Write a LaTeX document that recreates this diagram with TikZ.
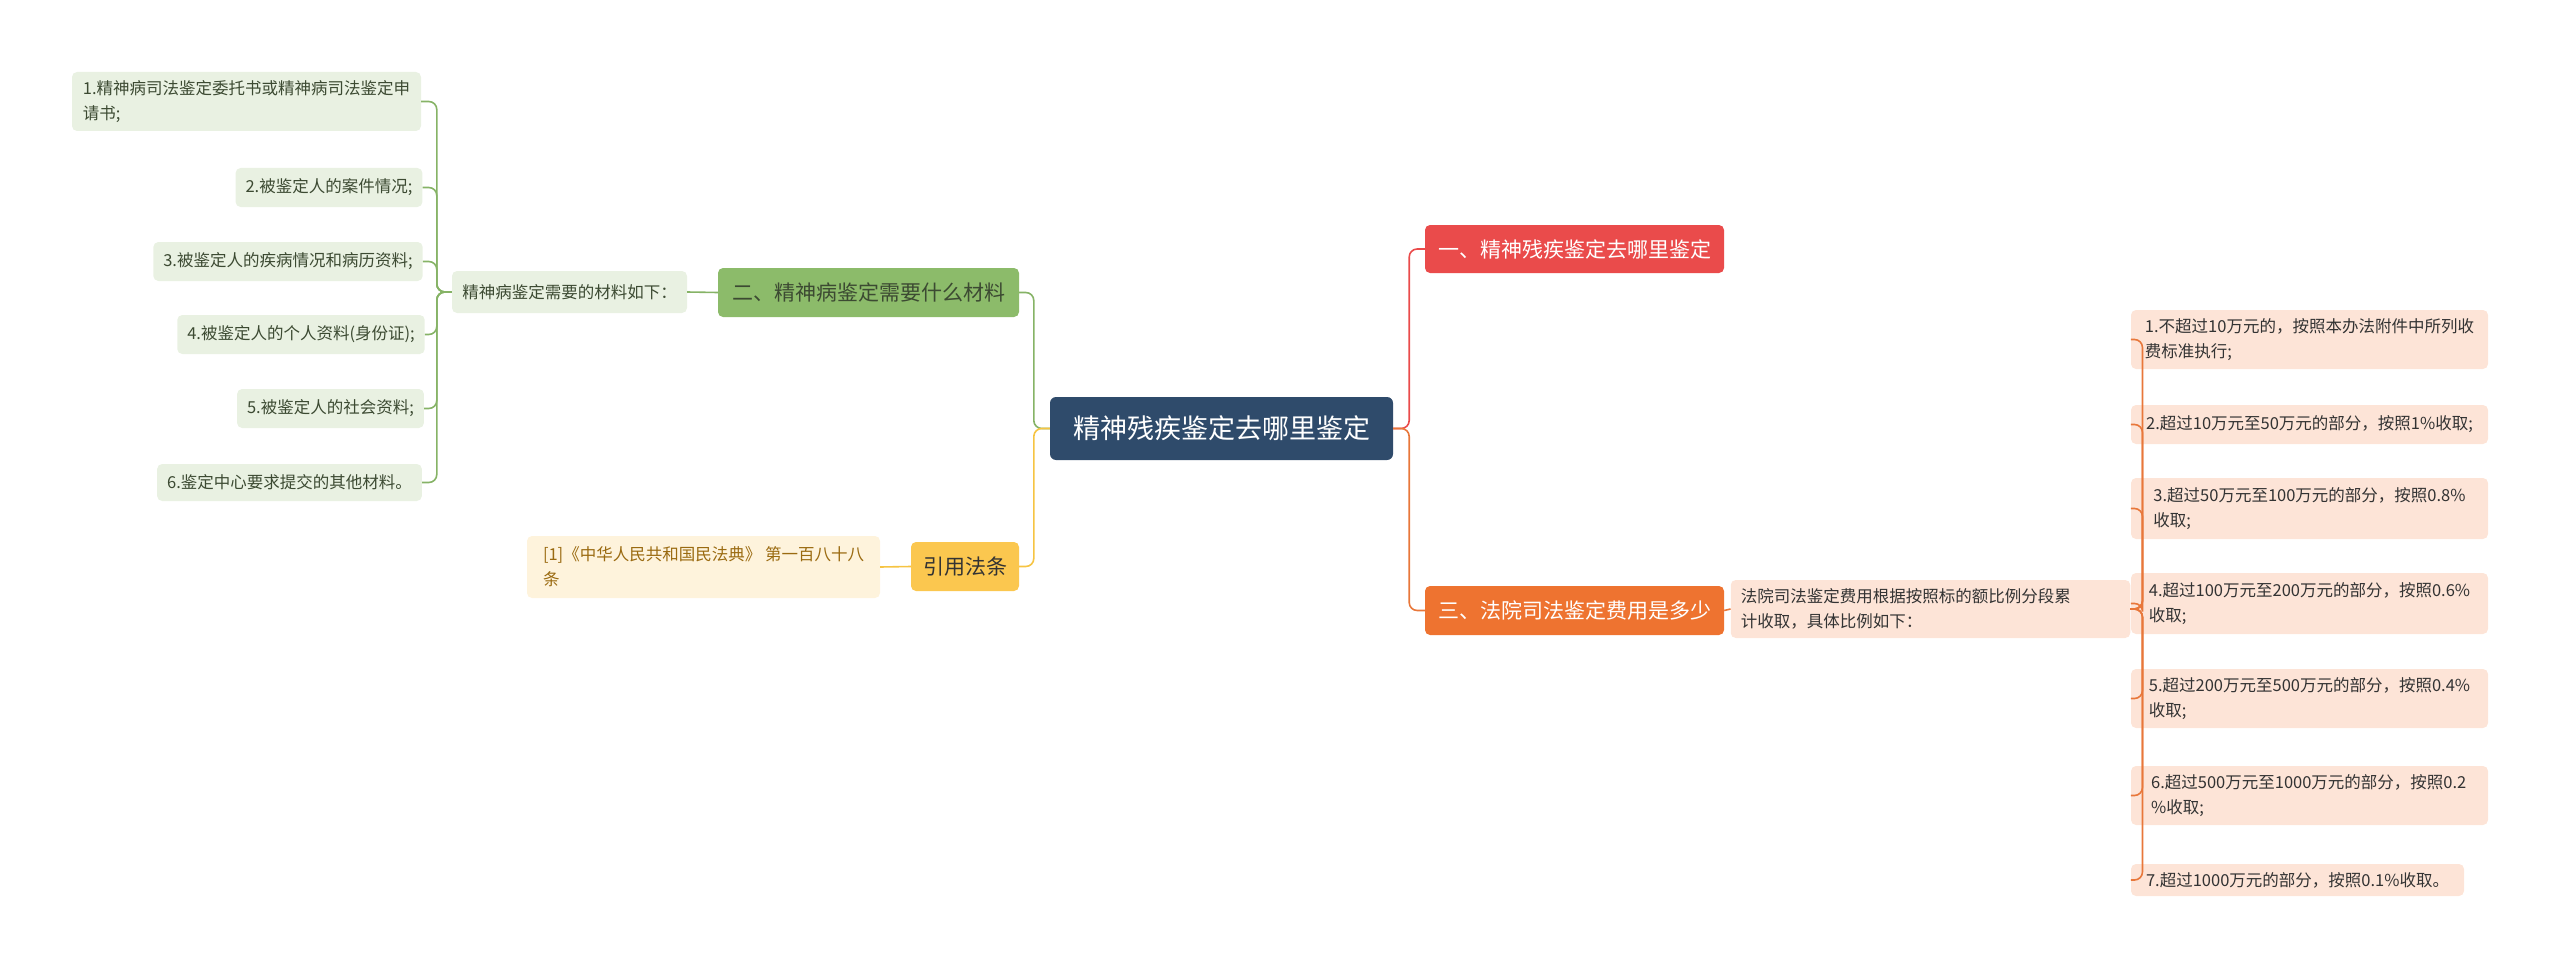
\documentclass[tikz,border=0pt]{standalone}
\usepackage{fontspec}
\setmainfont{Noto Sans CJK SC}
\definecolor{orangeL}{HTML}{E8773A}
\definecolor{yellowL}{HTML}{F6C443}
\definecolor{greenL}{HTML}{86B366}
\definecolor{cfill}{HTML}{2F4B6B}
\definecolor{rfill}{HTML}{EA4B4B}
\definecolor{ofill}{HTML}{EE7330}
\definecolor{gfill}{HTML}{8CBB6A}
\definecolor{yfill}{HTML}{FBC74F}
\definecolor{pfill}{HTML}{FDE4D7}
\definecolor{lgfill}{HTML}{E9F1E2}
\definecolor{lyfill}{HTML}{FEF3DC}
\definecolor{dtext}{HTML}{333333}
\definecolor{gtext}{HTML}{3C4A32}
\definecolor{btext}{HTML}{9A6A10}
\newcommand{\bxn}[9]{% name, x1,y1,x2,y2, fill, textcolor, anchor-align, text
  \node[bx,fill=#6,text=#7,minimum width={#4-#2},minimum height={#5-#3},align=#8] (#1) at ({(#2+#4)/2},{(#3+#5)/2}) {#9};}
\begin{document}
\begin{tikzpicture}[x=1pt,y=-1pt,
  bx/.style={rounded corners=5pt,inner xsep=10pt,inner ysep=0pt,font=\fontsize{16.5}{25}\selectfont},
  br/.style={rounded corners=5pt,inner sep=0pt,font=\fontsize{21}{24}\selectfont},
  gl/.style={draw=greenL,line width=1.6pt,rounded corners=8pt},
  ol/.style={draw=orangeL,line width=1.6pt,rounded corners=8pt},
  yl/.style={draw=yellowL,line width=1.6pt,rounded corners=8pt}]
\useasboundingbox (0,0) rectangle (2560,971);
\node[rounded corners=6pt,fill=cfill,minimum width=343,minimum height=63,text=white,font=\fontsize{27}{30}\selectfont,inner sep=0pt] (c) at (1221.5,428.5) {精神残疾鉴定去哪里鉴定};
\node[br,fill=rfill,text=white,minimum width=299,minimum height=48] (b1) at (1574.5,249) {一、精神残疾鉴定去哪里鉴定};
\node[br,fill=ofill,text=white,minimum width=299,minimum height=49] (b3) at (1574.5,610.5) {三、法院司法鉴定费用是多少};
\node[br,fill=gfill,text=gtext,minimum width=301,minimum height=49] (b2) at (868.5,292.5) {二、精神病鉴定需要什么材料};
\node[br,fill=yfill,text=dtext,minimum width=108,minimum height=49] (b4) at (965,566.5) {引用法条};
% right
\bxn{s3}{1755}{580}{2106}{638}{pfill}{dtext}{left}{法院司法鉴定费用根据按照标的额比例分段累\\计收取，具体比例如下：\hspace*{12em}}
\bxn{r1}{2131}{310}{2488}{369}{pfill}{dtext}{left}{1.不超过10万元的，按照本办法附件中所列收\\费标准执行;\hspace*{13em}}
\bxn{r2}{2131}{405}{2488}{444}{pfill}{dtext}{left}{2.超过10万元至50万元的部分，按照1\%收取;}
\bxn{r3}{2131}{478}{2488}{539}{pfill}{dtext}{left}{3.超过50万元至100万元的部分，按照0.8\%\\收取;\hspace*{16em}}
\bxn{r4}{2131}{573}{2488}{634}{pfill}{dtext}{left}{4.超过100万元至200万元的部分，按照0.6\%\\收取;\hspace*{16em}}
\bxn{r5}{2131}{669}{2488}{728}{pfill}{dtext}{left}{5.超过200万元至500万元的部分，按照0.4\%\\收取;\hspace*{16em}}
\bxn{r6}{2131}{766}{2488}{825}{pfill}{dtext}{left}{6.超过500万元至1000万元的部分，按照0.2\\\%收取;\hspace*{16em}}
\bxn{r7}{2131}{864}{2464}{896}{pfill}{dtext}{left}{7.超过1000万元的部分，按照0.1\%收取。}
% left
\bxn{s2}{452}{271}{687}{313}{lgfill}{gtext}{left}{精神病鉴定需要的材料如下：}
\bxn{l1}{72}{72}{421}{131}{lgfill}{gtext}{left}{1.精神病司法鉴定委托书或精神病司法鉴定申\\请书;\hspace*{16em}}
\bxn{l2}{237}{168}{421}{207}{lgfill}{gtext}{right}{2.被鉴定人的案件情况;}
\bxn{l3}{155}{242}{421}{281}{lgfill}{gtext}{right}{3.被鉴定人的疾病情况和病历资料;}
\bxn{l4}{181}{315}{421}{354}{lgfill}{gtext}{right}{4.被鉴定人的个人资料(身份证);}
\bxn{l5}{240}{389}{421}{428}{lgfill}{gtext}{right}{5.被鉴定人的社会资料;}
\bxn{l6}{158}{464}{421}{501}{lgfill}{gtext}{right}{6.鉴定中心要求提交的其他材料。}
\bxn{ct}{527}{536}{880}{598}{lyfill}{btext}{left}{[1]《中华人民共和国民法典》 第一百八十八\\条\hspace*{17em}}
% connectors
\draw[draw=rfill,line width=1.6pt,rounded corners=8pt] (c.east) -- ++(16,0) |- (b1.west);
\draw[ol] (c.east) -- ++(16,0) |- (b3.west);
\draw[gl] (c.west) -- ++(-16,0) |- (b2.east);
\draw[yl] (c.west) -- ++(-16,0) |- (b4.east);
\draw[ol] (b3.east) -- (s3.west);
\foreach \n in {r1,r2,r3,r4,r5,r6,r7} \draw[ol] (s3.east) -- ++(12,0) |- (\n.west);
\draw[gl] (b2.west) -- (s2.east);
\foreach \n in {l1,l2,l3,l4,l5,l6} \draw[gl] (s2.west) -- ++(-15,0) |- (\n.east);
\draw[yl] (b4.west) -- (ct.east);
\end{tikzpicture}
\end{document}
